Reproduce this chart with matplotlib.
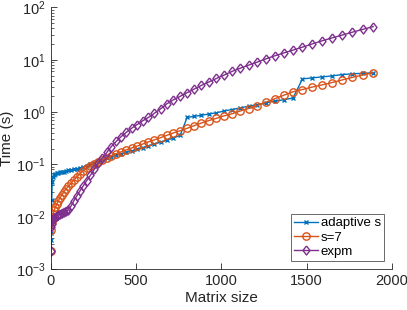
import matplotlib
matplotlib.use('Agg')
import matplotlib.pyplot as plt
from matplotlib.ticker import LogLocator, NullFormatter

plt.rcParams['font.family'] = ['Liberation Sans', 'DejaVu Sans']
plt.rcParams['mathtext.fontset'] = 'custom'
plt.rcParams['mathtext.rm'] = 'Liberation Sans'
plt.rcParams['mathtext.it'] = 'Liberation Sans'

# matrix sizes
sizes = [1, 2, 5, 8, 13, 19, 26, 34, 43, 53, 64, 76, 89, 103, 118, 134, 152,
         170, 190, 210, 232, 254, 278, 302, 328, 355, 383, 412, 442, 473,
         505, 538, 572, 607, 643, 680, 719, 758, 799, 840, 883, 926, 971,
         1016, 1063, 1111, 1160, 1210, 1261, 1313, 1366, 1420, 1475, 1531,
         1588, 1646, 1706, 1766, 1828, 1890]

# timings in seconds
t_adaptive = [0.0036, 0.0048, 0.021, 0.047, 0.058, 0.064, 0.067, 0.069, 0.070,
              0.071, 0.072, 0.073, 0.075, 0.077, 0.079, 0.081, 0.083, 0.086,
              0.090, 0.095, 0.100, 0.105, 0.112, 0.120, 0.130, 0.140, 0.150,
              0.160, 0.170, 0.180, 0.195, 0.210, 0.225, 0.245, 0.265, 0.29,
              0.32, 0.36, 0.79, 0.83, 0.87, 0.92, 0.97, 1.05, 1.12, 1.20,
              1.30, 1.38, 1.50, 1.62, 1.72, 1.86, 4.3, 4.5, 4.7, 4.9, 5.2,
              5.4, 5.5, 5.65]

t_s7 = [0.0022, 0.0056, 0.0079, 0.0095, 0.0112, 0.0132, 0.0151, 0.0174, 0.020,
        0.023, 0.026, 0.0295, 0.034, 0.038, 0.0435, 0.050, 0.0575, 0.066,
        0.076, 0.085, 0.093, 0.102, 0.112, 0.123, 0.135, 0.148, 0.16, 0.174,
        0.19, 0.206, 0.224, 0.245, 0.27, 0.295, 0.324, 0.36, 0.40, 0.44,
        0.49, 0.55, 0.62, 0.69, 0.76, 0.85, 0.93, 1.05, 1.17, 1.33, 1.55,
        1.8, 2.1, 2.45, 2.7, 3.0, 3.3, 3.65, 4.1, 4.6, 5.1, 5.67]

t_expm = [0.0022, 0.0065, 0.0074, 0.0083, 0.0089, 0.0094, 0.0099, 0.0104,
          0.0108, 0.0112, 0.0116, 0.0121, 0.0128, 0.0137, 0.0160, 0.0200,
          0.025, 0.031, 0.039, 0.049, 0.062, 0.080, 0.105, 0.132, 0.170,
          0.22, 0.275, 0.34, 0.41, 0.49, 0.575, 0.68, 0.79, 0.95, 1.15, 1.44,
          1.72, 2.0, 2.35, 2.75, 3.24, 3.76, 4.4, 5.1, 6.0, 6.9, 7.9, 9.0,
          10.4, 11.9, 13.5, 15.3, 17.4, 20, 22.9, 26, 29.5, 33.5, 38, 43]

blue = '#0072BD'
orange = '#D95319'
purple = '#7E2F8E'

# matlab-style diamond, a bit taller than wide
diamond = [(0, 1), (0.78, 0), (0, -1), (-0.78, 0), (0, 1)]

fig = plt.figure(figsize=(4.07, 3.10), dpi=100)
ax = fig.add_axes([0.125, 0.132, 0.838, 0.844])

ax.plot(sizes, t_adaptive, color=blue, marker='x', markersize=3.5,
        markeredgewidth=1.0, linewidth=1.0, label='adaptive s')
ax.plot(sizes, t_s7, color=orange, marker='o', markersize=5.3,
        markerfacecolor='none', markeredgewidth=1.0, linewidth=1.0, label='s=7')
ax.plot(sizes, t_expm, color=purple, marker=diamond, markersize=6.5,
        markerfacecolor='none', markeredgewidth=1.0, linewidth=1.0, label='expm')

ax.set_yscale('log')
ax.set_xlim(0, 2000)
ax.set_ylim(1e-3, 1e2)
ax.set_xticks([0, 500, 1000, 1500, 2000])
ax.yaxis.set_major_locator(LogLocator(base=10, numticks=10))
ax.yaxis.set_minor_locator(LogLocator(base=10, subs=range(2, 10), numticks=20))
ax.yaxis.set_minor_formatter(NullFormatter())

for s in ['top', 'right']:
    ax.spines[s].set_visible(False)
for s in ['left', 'bottom']:
    ax.spines[s].set_color('#262626')
    ax.spines[s].set_linewidth(0.6)
ax.tick_params(which='both', direction='in', colors='#262626', labelsize=10.5)
ax.tick_params(which='major', length=4, width=0.6)
ax.tick_params(which='minor', length=2, width=0.5)

ax.set_xlabel('Matrix size', fontsize=11, color='#262626', labelpad=2)
ax.set_ylabel('Time (s)', fontsize=11, color='#262626', labelpad=2)

leg = ax.legend(loc='lower right', fontsize=9.5, frameon=True, fancybox=False,
                edgecolor='#262626', handlelength=1.8, handletextpad=0.2,
                borderpad=0.25, labelspacing=0.15, borderaxespad=0.6)
leg.get_frame().set_linewidth(0.6)

fig.savefig('out.png', dpi=100)
